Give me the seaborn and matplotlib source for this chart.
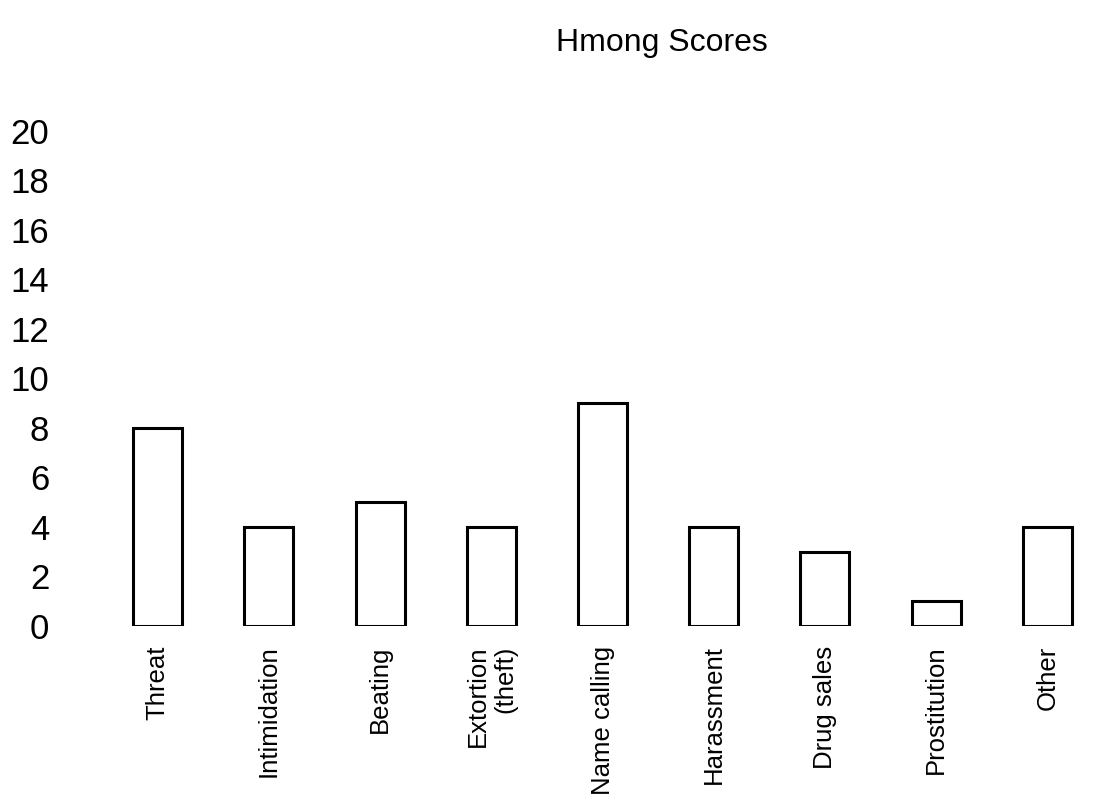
import numpy as np
import pandas as pd
import seaborn as sns
import matplotlib.pyplot as plt

categories = ['Threat', 'Intimidation', 'Beating', 'Extortion\n(theft)', 'Name calling',
              'Harassment', 'Drug sales', 'Prostitution', 'Other']
scores = [8, 4, 5, 4, 9, 4, 3, 1, 4]
y_ticks = list(range(0, 21, 2))

sns.set_theme(style='white')
plt.rcParams['font.family'] = ['Liberation Sans', 'DejaVu Sans']
plt.rcParams['text.color'] = 'black'
plt.rcParams['xtick.color'] = 'black'
plt.rcParams['ytick.color'] = 'black'

df = pd.DataFrame({'category': categories, 'score': scores})

fig = plt.figure(figsize=(11.14, 8.09), dpi=100)
ax = fig.add_axes([0.0916, 0.2262, 0.8985, 0.612])

sns.barplot(data=df, x='category', y='score', ax=ax, color='white', saturation=1,
            edgecolor='black', linewidth=2.2, width=0.44)

ax.set_xlim(-0.5, len(categories) - 0.5)
ax.set_ylim(0, 20)
ax.set_yticks(y_ticks)
ax.set_yticklabels([str(t) for t in y_ticks], fontsize=25)
ax.tick_params(axis='y', length=2, width=1.2, color='#777777', pad=36, direction='out')
ax.tick_params(axis='x', length=0, pad=14)
for lbl in ax.get_xticklabels():
    lbl.set_rotation(90)
    lbl.set_fontsize(18.5)
    lbl.set_multialignment('right')
    lbl.set_va('top')
    lbl.set_ha('center')

for s in ax.spines.values():
    s.set_visible(False)
ax.set_xlabel('')
ax.set_ylabel('')
ax.grid(False)

fig.text(0.594, 0.947, 'Hmong Scores', ha='center', va='center', fontsize=23)

fig.savefig('out.png', dpi=100, facecolor='white')
